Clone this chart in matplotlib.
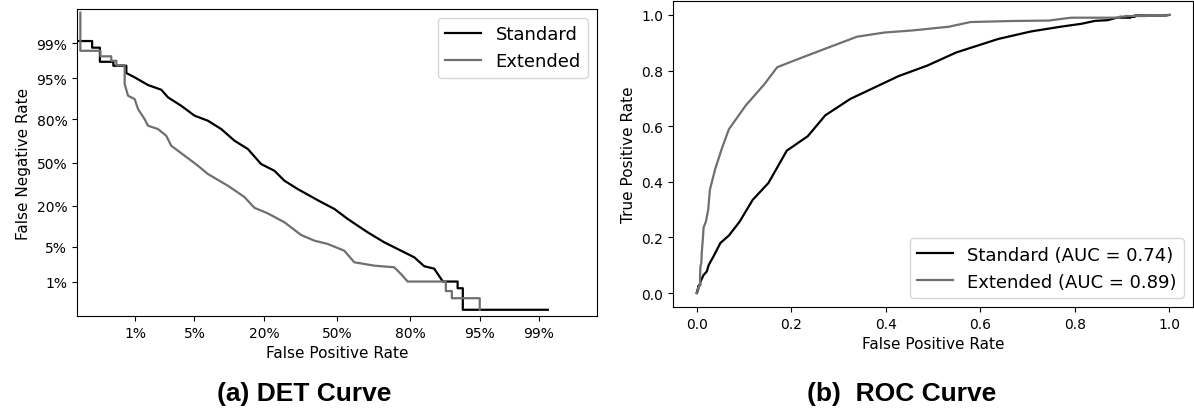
import math
import numpy as np
import matplotlib
matplotlib.use("Agg")
import matplotlib.pyplot as plt

# ---------------- data ----------------
std_fpr = [0.0, 0.00142, 0.00236, 0.00236, 0.00311, 0.00311, 0.00493, 0.00493, 0.00753, 0.00753,
           0.00977, 0.0146, 0.0213, 0.0256, 0.0362, 0.0501, 0.0681, 0.0907, 0.1184, 0.1518,
           0.1906, 0.235, 0.272, 0.325, 0.427, 0.488, 0.549, 0.638, 0.707, 0.770,
           0.8135, 0.843, 0.869, 0.889, 0.918, 0.918, 0.9267, 0.9267, 0.9925, 1.0]
std_tpr = [0.0, 0.0088, 0.0088, 0.0124, 0.0124, 0.0245, 0.0245, 0.0293, 0.0293, 0.0402,
           0.048, 0.065, 0.0775, 0.1015, 0.134, 0.180, 0.207, 0.2565, 0.335, 0.396,
           0.512, 0.564, 0.639, 0.698, 0.780, 0.818, 0.865, 0.9136, 0.9405, 0.9576,
           0.968, 0.9787, 0.981, 0.990, 0.990, 0.993, 0.993, 0.998, 0.998, 1.0]

ext_fpr = [0.0, 0.00153, 0.00153, 0.00317, 0.00317, 0.0046, 0.0046, 0.00545, 0.00545, 0.00714,
           0.00714, 0.00795, 0.00977, 0.01084, 0.0132, 0.0146, 0.0194, 0.0244, 0.0279, 0.0393,
           0.0543, 0.0681, 0.104, 0.1428, 0.1703, 0.2124, 0.272, 0.339, 0.3967, 0.4574,
           0.5335, 0.579, 0.6664, 0.7454, 0.7695, 0.7924, 0.8954, 0.8954, 0.9074, 0.9074,
           0.9502, 0.9502, 1.0]
ext_tpr = [0.0, 0.0017, 0.0145, 0.0145, 0.019, 0.019, 0.0234, 0.0234, 0.0285, 0.0285,
           0.0626, 0.096, 0.1075, 0.148, 0.198, 0.236, 0.2565, 0.3005, 0.3715, 0.447,
           0.525, 0.589, 0.675, 0.750, 0.812, 0.840, 0.8786, 0.9216, 0.9366, 0.9443,
           0.9576, 0.9744, 0.9781, 0.9797, 0.9853, 0.990, 0.990, 0.994, 0.994, 0.996,
           0.996, 0.998, 1.0]

det_labels = ["Standard", "Extended"]
roc_labels = ["Standard (AUC = 0.74)", "Extended (AUC = 0.89)"]
det_ticks = [0.01, 0.05, 0.20, 0.50, 0.80, 0.95, 0.99]
det_tick_labels = ["1%", "5%", "20%", "50%", "80%", "95%", "99%"]
roc_ticks = [0.0, 0.2, 0.4, 0.6, 0.8, 1.0]
colors = ["#000000", "#6f6f6f"]


# ---------------- normal deviate scale ----------------
_a = [-3.969683028665376e+01, 2.209460984245205e+02, -2.759285104469687e+02,
      1.383577518672690e+02, -3.066479806614716e+01, 2.506628277459239e+00]
_b = [-5.447609879822406e+01, 1.615858368580409e+02, -1.556989798598866e+02,
      6.680131188771972e+01, -1.328068155288572e+01]
_c = [-7.784894002430293e-03, -3.223964580411365e-01, -2.400758277161838e+00,
      -2.549732539343734e+00, 4.374664141464968e+00, 2.938163982698783e+00]
_d = [7.784695709041462e-03, 3.224671290700398e-01, 2.445134137142996e+00,
      3.754408661907416e+00]


def ppf(p):
    p = np.clip(np.asarray(p, dtype=float), 1e-12, 1 - 1e-12)
    out = np.empty_like(p)
    lo = p < 0.02425
    hi = p > 1 - 0.02425
    mid = ~(lo | hi)
    q = p[mid] - 0.5
    r = q * q
    out[mid] = ((((((_a[0] * r + _a[1]) * r + _a[2]) * r + _a[3]) * r + _a[4]) * r + _a[5]) * q /
                (((((_b[0] * r + _b[1]) * r + _b[2]) * r + _b[3]) * r + _b[4]) * r + 1))
    for mask, sign, pp in ((lo, 1.0, p[lo]), (hi, -1.0, 1 - p[hi])):
        q = np.sqrt(-2 * np.log(pp))
        out[mask] = sign * ((((((_c[0] * q + _c[1]) * q + _c[2]) * q + _c[3]) * q + _c[4]) * q + _c[5]) /
                            ((((_d[0] * q + _d[1]) * q + _d[2]) * q + _d[3]) * q + 1))
    return out


_erf = np.vectorize(math.erf)


def cdf(x):
    x = np.asarray(x, dtype=float)
    return 0.5 * (1 + _erf(x / math.sqrt(2)))


# ---------------- figure ----------------
fig = plt.figure(figsize=(11.94, 4.10), dpi=100)
ax1 = fig.add_axes([0.0645, 0.2268, 0.4355, 0.7488])
ax2 = fig.add_axes([0.5637, 0.2488, 0.4355, 0.7463])

# DET
for fpr, tpr, lab, col in ((std_fpr, std_tpr, det_labels[0], colors[0]),
                           (ext_fpr, ext_tpr, det_labels[1], colors[1])):
    fpr = np.asarray(fpr)
    fnr = 1 - np.asarray(tpr)
    ok = (fpr > 0) & (fpr < 1) & (fnr > 0) & (fnr < 1)
    ax1.plot(fpr[ok], fnr[ok], color=col, lw=1.6, label=lab)

ax1.set_xscale("function", functions=(ppf, cdf))
ax1.set_yscale("function", functions=(ppf, cdf))
ax1.set_xlim(float(cdf(-3)), float(cdf(3)))
ax1.set_ylim(float(cdf(-3)), float(cdf(3)))
ax1.set_xticks(det_ticks)
ax1.set_xticklabels(det_tick_labels)
ax1.set_yticks(det_ticks)
ax1.set_yticklabels(det_tick_labels)
ax1.minorticks_off()
ax1.tick_params(labelsize=10)
ax1.set_xlabel("False Positive Rate", fontsize=11)
ax1.set_ylabel("False Negative Rate", fontsize=11)
ax1.legend(loc="upper right", fontsize=13)

# ROC
for fpr, tpr, lab, col in ((std_fpr, std_tpr, roc_labels[0], colors[0]),
                           (ext_fpr, ext_tpr, roc_labels[1], colors[1])):
    ax2.plot(fpr, tpr, color=col, lw=1.6, label=lab)
ax2.set_xlim(-0.05, 1.05)
ax2.set_ylim(-0.05, 1.05)
ax2.set_xticks(roc_ticks)
ax2.set_yticks(roc_ticks)
ax2.tick_params(labelsize=10)
ax2.set_xlabel("False Positive Rate", fontsize=11)
ax2.set_ylabel("True Positive Rate", fontsize=11)
ax2.legend(loc="lower right", fontsize=13)

title_font = dict(family=["Liberation Sans", "DejaVu Sans"], fontweight="bold", fontsize=19)
fig.text(0.2546, 0.022, "(a) DET Curve", ha="center", va="baseline", **title_font)
fig.text(0.7552, 0.022, "(b)  ROC Curve", ha="center", va="baseline", **title_font)

fig.savefig("out.png", dpi=100)
